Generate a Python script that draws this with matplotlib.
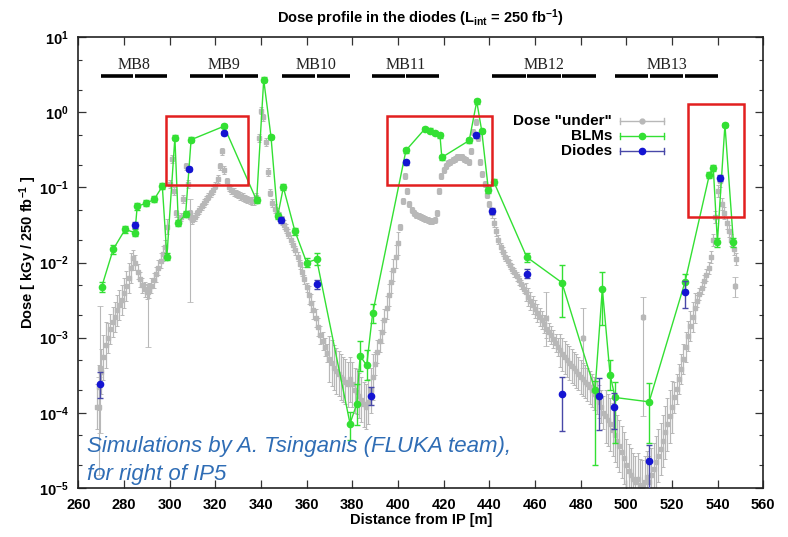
import numpy as np
import matplotlib
matplotlib.use('Agg')
import matplotlib.pyplot as plt
from matplotlib.patches import Rectangle
from matplotlib.ticker import LogLocator, NullFormatter
import matplotlib.transforms as mtransforms

plt.rcParams['font.family'] = ['Liberation Sans', 'DejaVu Sans']
plt.rcParams['font.weight'] = 'bold'
plt.rcParams['axes.labelweight'] = 'bold'
plt.rcParams['mathtext.default'] = 'regular'

# ---------------- data ----------------
# "Dose under" profile (gray), one value per metre from 268 m to 548 m
gray_x = list(range(268, 549))
gray_y = [
    # 268-277
    1.2e-4, 2.2e-4, 3.5e-4, 5.5e-4, 8e-4, 1.0e-3, 1.3e-3, 1.6e-3, 1.9e-3, 2.3e-3,
    # 278-287
    2.7e-3, 3.2e-3, 3.9e-3, 4.8e-3, 6.2e-3, 8.5e-3, 1.15e-2, 1.0e-2, 7.5e-3, 6e-3,
    # 288-297
    5e-3, 4.4e-3, 4.1e-3, 4.3e-3, 4.9e-3, 5.8e-3, 7e-3, 8.5e-3, 1.05e-2, 1.3e-2,
    # 298-307
    1.6e-2, 3e-2, 0.11, 0.24, 0.09, 0.045, 0.036, 0.04, 0.07, 0.19,
    # 308-317
    0.11, 0.045, 0.037, 0.04, 0.045, 0.05, 0.056, 0.062, 0.068, 0.075,
    # 318-327
    0.083, 0.092, 0.105, 0.13, 0.19, 0.3, 0.17, 0.12, 0.1, 0.092,
    # 328-337
    0.087, 0.083, 0.08, 0.077, 0.074, 0.071, 0.069, 0.067, 0.066, 0.066,
    # 338-347
    0.075, 0.45, 1.05, 0.85, 0.4, 0.16, 0.085, 0.062, 0.052, 0.046,
    # 348-357
    0.041, 0.036, 0.032, 0.028, 0.024, 0.02, 0.017, 0.0145, 0.012, 0.0095,
    # 358-367
    0.0075, 0.006, 0.0047, 0.0037, 0.0029, 0.0023, 0.0018, 0.0014, 0.0011, 0.0009,
    # 368-377
    7.5e-4, 6.2e-4, 5.2e-4, 4.6e-4, 4e-4, 3.6e-4, 3.3e-4, 3e-4, 2.8e-4, 2.6e-4,
    # 378-387
    2.4e-4, 2.8e-4, 2.4e-4, 2e-4, 1.9e-4, 1.7e-4, 1.5e-4, 1.3e-4, 1.2e-4, 1.4e-4,
    # 388-397
    2e-4, 3e-4, 4.5e-4, 6.5e-4, 9e-4, 1.2e-3, 1.7e-3, 2.5e-3, 3.7e-3, 5.5e-3,
    # 398-407
    8e-3, 0.012, 0.018, 0.03, 0.065, 0.14, 0.09, 0.06, 0.05, 0.046,
    # 408-417
    0.043, 0.041, 0.04, 0.039, 0.038, 0.037, 0.036, 0.036, 0.037, 0.045,
    # 418-427
    0.09, 0.14, 0.17, 0.19, 0.21, 0.22, 0.23, 0.24, 0.25, 0.25,
    # 428-437
    0.25, 0.24, 0.23, 0.22, 0.3, 0.55, 0.75, 0.45, 0.22, 0.15,
    # 438-447
    0.11, 0.08, 0.06, 0.045, 0.034, 0.026, 0.02, 0.016, 0.014, 0.012,
    # 448-457
    0.0105, 0.0093, 0.0083, 0.0074, 0.0066, 0.0058, 0.0051, 0.0045, 0.004, 0.0035,
    # 458-467
    0.0031, 0.0027, 0.0024, 0.0021, 0.0019, 0.0017, 0.0015, 0.0013, 0.0012, 0.0011,
    # 468-477
    9.5e-4, 8.5e-4, 7.5e-4, 6.8e-4, 6e-4, 5.5e-4, 5e-4, 4.6e-4, 4.2e-4, 3.9e-4,
    # 478-487
    3.6e-4, 3.3e-4, 3e-4, 2.8e-4, 2.6e-4, 2.4e-4, 2.2e-4, 2e-4, 1.8e-4, 1.6e-4,
    # 488-497
    1.4e-4, 1.2e-4, 1e-4, 9e-5, 8e-5, 7e-5, 6e-5, 5e-5, 4.2e-5, 3.6e-5,
    # 498-507
    3e-5, 2.5e-5, 2e-5, 1.7e-5, 1.5e-5, 1.3e-5, 1.2e-5, 1.3e-5, 1.1e-5, 1.05e-5,
    # 508-517
    1.2e-5, 1.4e-5, 1.2e-5, 1.5e-5, 1.8e-5, 2.2e-5, 2.7e-5, 3.3e-5, 4.2e-5, 5.5e-5,
    # 518-527
    7e-5, 9e-5, 1.2e-4, 1.6e-4, 2.1e-4, 2.8e-4, 3.8e-4, 5.2e-4, 7.5e-4, 1.05e-3,
    # 528-537
    1.45e-3, 1.9e-3, 2.5e-3, 3.1e-3, 3.8e-3, 4.6e-3, 5.6e-3, 6.8e-3, 8.5e-3, 0.012,
    # 538-548
    0.02, 0.04, 0.09, 0.12, 0.06, 0.045, 0.034, 0.026, 0.02, 0.015, 0.011,
]
# statistical error of the gray profile, in decades (per point)
gray_err = ([0.3] * 5 + [0.2] * 11 + [0.1] * 16 + [0.05] * 46 + [0.06] * 15 +
            [0.12] * 9 + [0.3] * 20 + [0.15] * 11 + [0.04] * 40 + [0.06] * 15 +
            [0.12] * 15 + [0.22] * 20 + [0.35] * 30 + [0.2] * 10 + [0.08] * 18)

# a few isolated gray bins with large uncertainties
gray_extra_x = [269.5, 269.0, 290.5, 309.0, 465.0, 481.0, 507.3, 547.6]
gray_extra_y = [4e-4, 1.2e-4, 4.0e-3, 0.04, 1.8e-3, 1.0e-3, 1.9e-3, 4.8e-3]
gray_extra_lo = [5.4e-5, 1.5e-5, 7.5e-4, 3e-3, 7.8e-4, 4e-4, 9e-5, 3.5e-3]
gray_extra_hi = [2.6e-3, 3e-4, 5e-3, 0.07, 4e-3, 2.5e-3, 3.5e-3, 6.5e-3]

# BLMs (green)
blm_x = [270.2, 275.3, 280.5, 284.8, 285.8, 289.5, 293.2, 296.8, 298.8, 302.3,
         303.8, 307.0, 309.4, 323.8, 338.1, 341.2, 344.4, 347.3, 349.8, 354.9,
         360.0, 364.4, 379.0, 381.9, 383.4, 386.3, 388.9, 403.5, 411.8, 414.0,
         416.2, 418.4, 419.2, 431.2, 434.5, 436.7, 439.6, 442.1, 456.4, 471.8,
         486.3, 489.5, 492.9, 495.1, 510.0, 525.7, 536.4, 538.1, 539.9, 543.2,
         546.9]
blm_y = [4.7e-3, 0.015, 0.0275, 0.025, 0.056, 0.061, 0.069, 0.103, 0.012, 0.46,
         0.034, 0.044, 0.43, 0.65, 0.067, 2.7, 0.47, 0.041, 0.1, 0.026,
         0.010, 0.011, 7.2e-5, 1.3e-4, 5.7e-4, 4.3e-4, 2.1e-3, 0.31, 0.60, 0.57,
         0.53, 0.49, 0.25, 0.42, 1.39, 0.56, 0.093, 0.116, 0.0118, 5.4e-3,
         2.0e-4, 4.5e-3, 3.2e-4, 1.6e-4, 1.4e-4, 5.5e-3, 0.148, 0.18, 0.0187, 0.68,
         0.0187]
# errors in decades (down, up)
blm_lo = [0.07, 0.06, 0.05, 0.05, 0.05, 0.04, 0.04, 0.04, 0.05, 0.03,
          0.04, 0.04, 0.03, 0.03, 0.04, 0.03, 0.03, 0.04, 0.04, 0.05,
          0.06, 0.08, 0.22, 0.28, 0.2, 0.2, 0.13, 0.03, 0.03, 0.03,
          0.03, 0.03, 0.03, 0.03, 0.03, 0.03, 0.04, 0.04, 0.06, 0.46,
          1.0, 0.48, 0.2, 0.6, 0.55, 0.1, 0.04, 0.04, 0.06, 0.03,
          0.06]
blm_hi = [0.07, 0.06, 0.05, 0.05, 0.05, 0.04, 0.04, 0.04, 0.05, 0.03,
          0.04, 0.04, 0.03, 0.03, 0.04, 0.03, 0.03, 0.04, 0.04, 0.05,
          0.06, 0.08, 0.15, 0.27, 0.2, 0.2, 0.13, 0.03, 0.03, 0.03,
          0.03, 0.03, 0.03, 0.03, 0.03, 0.03, 0.04, 0.04, 0.06, 0.23,
          0.12, 0.22, 0.2, 0.2, 0.25, 0.1, 0.04, 0.04, 0.06, 0.03,
          0.06]

# Diodes (blue)
diode_x = [269.5, 284.8, 308.5, 323.8, 348.8, 364.4, 388.1, 403.5, 434.2, 441.1,
           456.7, 472.0, 488.1, 494.7, 510.1, 525.7, 541.2]
diode_y = [2.4e-4, 0.032, 0.176, 0.53, 0.037, 5.1e-3, 1.66e-4, 0.215, 0.49, 0.049,
           7.1e-3, 1.78e-4, 1.7e-4, 1.2e-4, 2.3e-5, 4.0e-3, 0.133]
diode_lo = [0.18, 0.04, 0.03, 0.03, 0.04, 0.06, 0.12, 0.03, 0.03, 0.04,
            0.06, 0.49, 0.46, 0.3, 0.39, 0.21, 0.04]
diode_hi = [0.16, 0.04, 0.03, 0.03, 0.04, 0.06, 0.12, 0.03, 0.03, 0.04,
            0.06, 0.22, 0.23, 0.19, 0.21, 0.15, 0.04]

# dipole magnets
mb_names = ['MB8', 'MB9', 'MB10', 'MB11', 'MB12', 'MB13']
mb_start = [269.5, 308.5, 349.1, 388.2, 441.0, 494.8]
mb_end = [299.3, 339.0, 379.2, 418.4, 487.0, 540.4]
mb_nseg = [2, 2, 2, 2, 3, 3]

# highlighted regions (x0, x1, y0, y1)
box_x0 = [298.3, 395.3, 527.2]
box_x1 = [334.5, 441.3, 551.6]
box_y0 = [0.109, 0.109, 0.040]
box_y1 = [0.90, 0.90, 1.28]

x_ticks = list(range(260, 561, 20))

# ---------------- plot ----------------
fig = plt.figure(figsize=(7.88, 5.37), dpi=100)
ax = fig.add_axes([78.3 / 788, 1 - 488 / 537, 685 / 788, 451 / 537])

GRAY = '#b8b8b8'
GREEN = '#33e033'
BLUE = '#1414d2'
BLUE_ERR = '#4848a8'


def dec_err(y, lo, hi):
    y = np.asarray(y, float)
    lo = np.asarray(lo, float)
    hi = np.asarray(hi, float)
    return np.vstack([y - y * 10 ** (-lo), y * 10 ** hi - y])


gy = np.array(gray_y)
ax.errorbar(gray_x, gy, yerr=dec_err(gy, gray_err, gray_err), xerr=0.8,
            fmt='s', ms=2.6, color=GRAY, ecolor=GRAY, elinewidth=0.9,
            capsize=1.4, capthick=0.7, zorder=2)
gey = np.array(gray_extra_y)
ax.errorbar(gray_extra_x, gey,
            yerr=np.vstack([gey - np.array(gray_extra_lo), np.array(gray_extra_hi) - gey]),
            xerr=0.6, fmt='s', ms=2.2, color=GRAY, ecolor=GRAY, elinewidth=0.8,
            capsize=2, capthick=0.6, zorder=2)

ax.errorbar(blm_x, blm_y, yerr=dec_err(blm_y, blm_lo, blm_hi), fmt='-o', ms=4.5,
            color=GREEN, mfc=GREEN, mec=GREEN, lw=1.0, elinewidth=1.0,
            capsize=2.5, zorder=3)
ax.errorbar(diode_x, diode_y, yerr=dec_err(diode_y, diode_lo, diode_hi), fmt='o',
            ms=4.5, color=BLUE, ecolor=BLUE_ERR, elinewidth=1.0, capsize=2.5, zorder=4)

for x0, x1, y0, y1 in zip(box_x0, box_x1, box_y0, box_y1):
    ax.add_patch(Rectangle((x0, y0), x1 - x0, y1 - y0, fill=False,
                           edgecolor='#e21f1f', lw=1.8, zorder=6))

ax.set_yscale('log')
ax.set_xlim(260, 560)
ax.set_ylim(1e-5, 10)
ax.set_xticks(x_ticks)
ax.yaxis.set_major_locator(LogLocator(base=10, numticks=10))
ax.yaxis.set_minor_locator(LogLocator(base=10, subs=(2.0, 5.0), numticks=10))
ax.yaxis.set_minor_formatter(NullFormatter())
ax.tick_params(which='both', direction='in', top=True, right=True,
               labelsize=10.5, color='#333333')
ax.tick_params(which='major', length=6, width=0.9, pad=7)
ax.tick_params(which='minor', length=3, width=0.8)
for sp in ax.spines.values():
    sp.set_linewidth(1.2)
    sp.set_color('#222222')

ax.set_xlabel('Distance from IP [m]', fontsize=10.5, fontweight='bold', va='center')
ax.xaxis.set_label_coords(0.5, (488 - 520) / 451)
ax.set_ylabel('Dose [ kGy / 250 fb$^{-1}$ ]', fontsize=10.5, fontweight='bold',
              va='center')
ax.yaxis.set_label_coords((28 - 78.3) / 685, (488 - 252) / 451)

fig.text(420.8 / 788, 1 - 18 / 537, 'Dose profile in the diodes (L$_{int}$ = 250 fb$^{-1}$)',
         ha='center', va='center', fontsize=10.5, fontweight='bold')

# magnets
trans = mtransforms.blended_transform_factory(ax.transData, ax.transAxes)
for name, s, e, n in zip(mb_names, mb_start, mb_end, mb_nseg):
    seg = (e - s) / n
    for k in range(n):
        ax.plot([s + k * seg + 0.3, s + (k + 1) * seg - 0.3], [0.9135, 0.9135],
                transform=trans, color='black', lw=2.6, solid_capstyle='butt',
                zorder=5)
    ax.text((s + e) / 2, 0.937, name, transform=trans, ha='center', va='center',
            fontsize=11.5, family=['Liberation Serif', 'DejaVu Serif'],
            fontweight='normal', color='#222222', zorder=5)

# legend (drawn by hand, gnuplot style)
leg_labels = ['Dose "under"', 'BLMs', 'Diodes']
leg_colors = [GRAY, GREEN, BLUE]
leg_line = [GRAY, GREEN, BLUE_ERR]
leg_y = [0.814, 0.780, 0.747]
for lab, c, lc, yy in zip(leg_labels, leg_colors, leg_line, leg_y):
    ax.text(0.779, yy, lab, transform=ax.transAxes, ha='right', va='center',
            fontsize=11, fontweight='bold', zorder=7)
    ax.plot([0.791, 0.855], [yy, yy], transform=ax.transAxes, color=lc, lw=1.0, zorder=7)
    for xc in (0.791, 0.855):
        ax.plot([xc, xc], [yy - 0.007, yy + 0.007], transform=ax.transAxes,
                color=lc, lw=1.0, zorder=7)
    ax.plot([0.823], [yy], 'o', transform=ax.transAxes, color=c,
            ms=3.5 if c == GRAY else 4.5, zorder=8)

# credit
ax.text(0.013, (488 - 452.3) / 451, 'Simulations by A. Tsinganis (FLUKA team),',
        transform=ax.transAxes, ha='left', va='baseline', fontsize=16,
        style='italic', fontweight='normal', color='#2f6db5', zorder=7)
ax.text(0.013, (488 - 480) / 451, 'for right of IP5',
        transform=ax.transAxes, ha='left', va='baseline', fontsize=16,
        style='italic', fontweight='normal', color='#2f6db5', zorder=7)

fig.savefig('out.png', dpi=100)
